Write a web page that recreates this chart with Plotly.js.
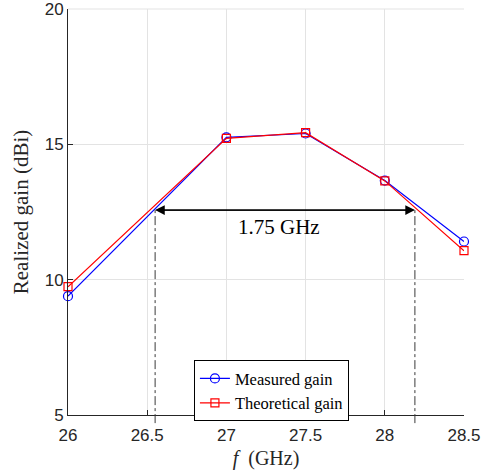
<!DOCTYPE html>
<html>
<head>
<meta charset="utf-8">
<script src="https://cdn.plot.ly/plotly-3.0.1.min.js"></script>
<style>
html,body{margin:0;padding:0;background:#fff;}
#chart{width:488px;height:476px;}
</style>
</head>
<body>
<div id="chart"></div>
<script>
// Data
const freqPts = [26, 27, 27.5, 28, 28.5];
const measuredGain = [9.39, 15.26, 15.40, 13.66, 11.41];
const theoreticalGain = [9.74, 15.22, 15.43, 13.65, 11.07];
const xTickVals = [26, 26.5, 27, 27.5, 28, 28.5];
const yTickVals = [5, 10, 15, 20];
const bandEdges = [26.55, 28.19];   // bandwidth edges (GHz)
const bandLevel = 12.57;            // arrow level (dBi)
const bandLabel = '1.75 GHz';
const labelPos = [27.33, 11.96];
const xRange = [26, 28.5];
const yRange = [5, 20];

const serif = '"Liberation Serif", "Times New Roman", serif';
const sans = '"Liberation Sans", Arial, Helvetica, sans-serif';

const traces = [
  {
    x: freqPts, y: measuredGain, name: 'Measured gain',
    type: 'scatter', mode: 'lines+markers',
    line: {color: '#0000ff', width: 1.2},
    marker: {symbol: 'circle-open', size: 9, color: '#0000ff', line: {width: 1.2}},
    cliponaxis: false
  },
  {
    x: freqPts, y: theoreticalGain, name: 'Theoretical gain',
    type: 'scatter', mode: 'lines+markers',
    line: {color: '#ff0000', width: 1.2},
    marker: {symbol: 'square-open', size: 8, color: '#ff0000', line: {width: 1.2}},
    cliponaxis: false
  }
];

// convert data values to paper fractions through the axis ranges
const px = v => (v - xRange[0]) / (xRange[1] - xRange[0]);
const py = v => (v - yRange[0]) / (yRange[1] - yRange[0]);

const shapes = bandEdges.map(xe => ({
  type: 'line', xref: 'paper', yref: 'paper',
  x0: px(xe), x1: px(xe),
  y0: -0.02, y1: py(bandLevel),
  line: {color: '#3a3a3a', width: 1, dash: 'dashdot'}
}));
// light top frame line (grid at range end)
shapes.push({type: 'line', xref: 'paper', yref: 'paper', x0: 0, x1: 1, y0: 1, y1: 1,
  line: {color: '#e3e3e3', width: 1}, layer: 'below'});

const annotations = [
  {x: bandEdges[0], y: bandLevel, ax: bandEdges[1], ay: bandLevel,
   xref: 'x', yref: 'y', axref: 'x', ayref: 'y', text: '', showarrow: true,
   arrowhead: 2, arrowsize: 1.6, arrowwidth: 1.2, arrowcolor: '#000'},
  {x: bandEdges[1], y: bandLevel, ax: bandEdges[0], ay: bandLevel,
   xref: 'x', yref: 'y', axref: 'x', ayref: 'y', text: '', showarrow: true,
   arrowhead: 2, arrowsize: 1.6, arrowwidth: 1.2, arrowcolor: '#000'},
  {x: labelPos[0], y: labelPos[1], xref: 'x', yref: 'y',
   text: bandLabel, showarrow: false,
   font: {family: serif, size: 21, color: '#000'}}
];

const layout = {
  width: 488, height: 476,
  margin: {l: 68, r: 23.5, t: 9, b: 61, pad: 0},
  paper_bgcolor: '#fff', plot_bgcolor: '#fff',
  showlegend: true,
  legend: {
    x: 0.318, y: 0.135, xanchor: 'left', yanchor: 'top',
    bgcolor: '#fff', bordercolor: '#000', borderwidth: 1,
    font: {family: serif, size: 16.5, color: '#000'},
    tracegroupgap: 0, itemwidth: 30
  },
  xaxis: {
    range: xRange, tickvals: xTickVals,
    showline: true, linecolor: '#262626', linewidth: 1,
    ticks: 'inside', ticklen: 5, tickcolor: '#262626',
    showgrid: true, gridcolor: '#e3e3e3', gridwidth: 1,
    zeroline: false, mirror: false,
    ticklabelstandoff: 5,
    tickfont: {family: sans, size: 17, color: '#262626'},
    title: {text: '<i>f</i>  (GHz)', font: {family: serif, size: 20, color: '#262626'}, standoff: 6}
  },
  yaxis: {
    range: yRange, tickvals: yTickVals,
    showline: true, linecolor: '#262626', linewidth: 1,
    ticks: 'inside', ticklen: 5, tickcolor: '#262626',
    showgrid: true, gridcolor: '#e3e3e3', gridwidth: 1,
    zeroline: false, mirror: false,
    ticklabeloverflow: 'allow',
    tickfont: {family: sans, size: 17, color: '#262626'},
    title: {text: 'Realized gain (dBi)', font: {family: serif, size: 21, color: '#262626'}, standoff: 10}
  },
  shapes: shapes,
  annotations: annotations
};

Plotly.newPlot('chart', traces, layout, {displayModeBar: false, staticPlot: true});
</script>
</body>
</html>
